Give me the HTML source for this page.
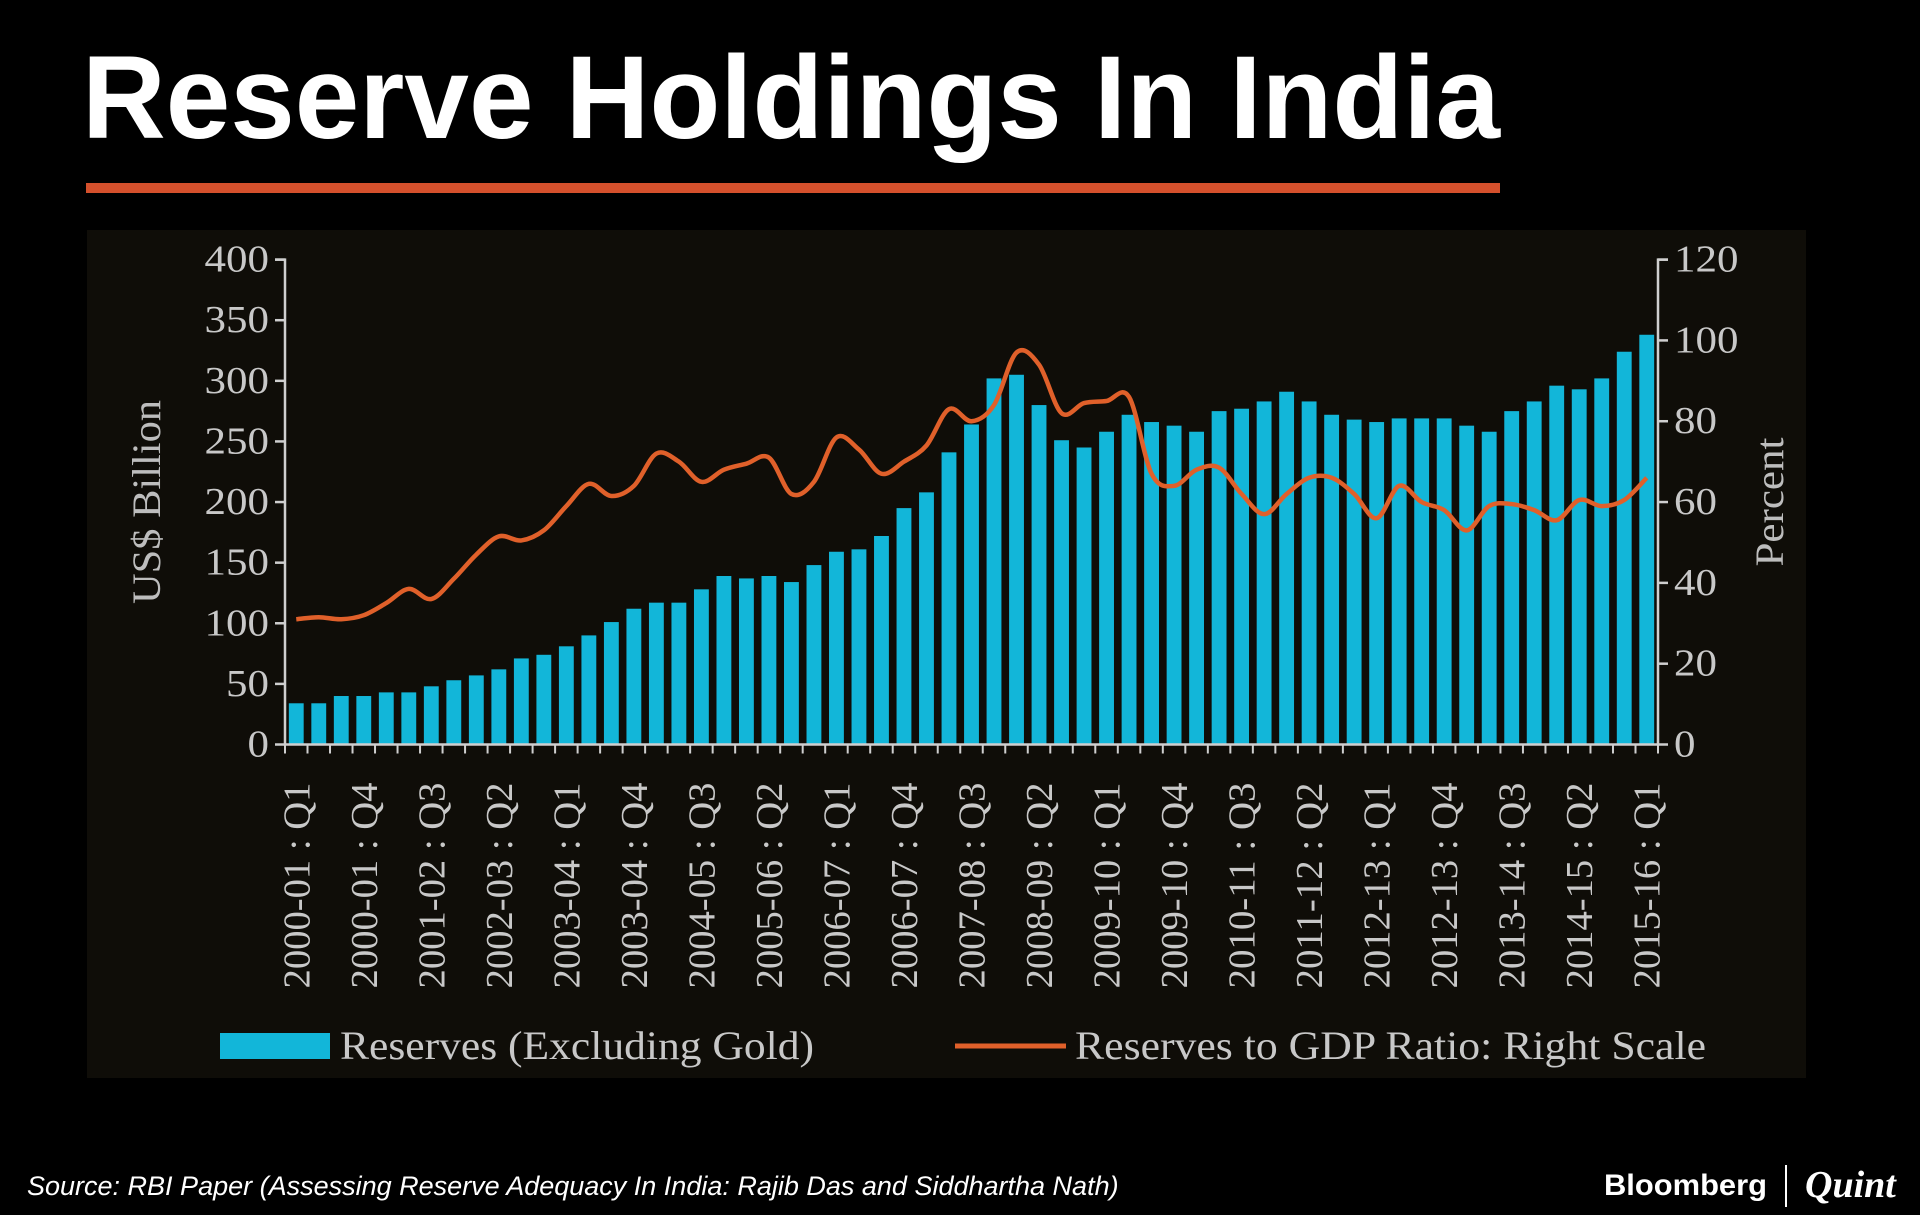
<!DOCTYPE html>
<html><head><meta charset="utf-8">
<style>
html,body{margin:0;padding:0;background:#000;width:1920px;height:1215px;overflow:hidden}
svg{display:block}
</style></head>
<body>
<svg width="1920" height="1215" viewBox="0 0 1920 1215" xmlns="http://www.w3.org/2000/svg">
<text x="82" y="138" font-family="Liberation Sans, sans-serif" font-weight="bold" font-size="118" fill="#fff" textLength="1418" lengthAdjust="spacingAndGlyphs">Reserve Holdings In India</text>
<rect x="86" y="183" width="1414" height="10" fill="#d4502c"/>
<rect x="87" y="230" width="1719" height="848" fill="#0f0d08"/>
<g id="plot"></g>
<text transform="translate(160,502) rotate(-90)" text-anchor="middle" font-family="Liberation Serif, serif" font-size="40" fill="#bdbdbd" textLength="204" lengthAdjust="spacingAndGlyphs">US$ Billion</text>
<text transform="translate(1783,502) rotate(-90)" text-anchor="middle" font-family="Liberation Serif, serif" font-size="40" fill="#bdbdbd" textLength="129" lengthAdjust="spacingAndGlyphs">Percent</text>
<g>
<rect x="220" y="1033" width="110" height="26" fill="#12b6d9"/>
<text x="340" y="1059" font-family="Liberation Serif, serif" font-size="40" fill="#c8c8c8" textLength="474" lengthAdjust="spacingAndGlyphs">Reserves (Excluding Gold)</text>
<line x1="955" y1="1046" x2="1066" y2="1046" stroke="#e0602a" stroke-width="5"/>
<text x="1075" y="1059" font-family="Liberation Serif, serif" font-size="40" fill="#c8c8c8" textLength="631" lengthAdjust="spacingAndGlyphs">Reserves to GDP Ratio: Right Scale</text>
</g>
<text x="27" y="1195" font-family="Liberation Sans, sans-serif" font-style="italic" font-size="27" fill="#fff">Source: RBI Paper (Assessing Reserve Adequacy In India: Rajib Das and Siddhartha Nath)</text>
<text x="1604" y="1195" font-family="Liberation Sans, sans-serif" font-weight="bold" font-size="30" fill="#fff" textLength="163" lengthAdjust="spacingAndGlyphs">Bloomberg</text>
<line x1="1786" y1="1165" x2="1786" y2="1207" stroke="#fff" stroke-width="2"/>
<text x="1805" y="1197" font-family="Liberation Serif, serif" font-style="italic" font-weight="bold" font-size="38" fill="#fff">Quint</text>
</svg>
<script>
const reserves=[34,34,40,40,43,43,48,53,57,62,71,74,81,90,101,112,117,117,128,139,137,139,134,148,159,161,172,195,208,241,264,302,305,280,251,245,258,272,266,263,258,275,277,283,291,283,272,268,266,269,269,269,263,258,275,283,296,293,302,324,338];
const ratio=[31,31.5,31,32,35,38.5,36,41,47,51.5,50.5,53,59,64.5,61.5,64,72,70,65,68,69.5,71,62,65,76,73,67,70,74,83,80,84,97,94,82,84.5,85,86,67,64,68,68.5,62,57,62,66,66,62,56,64,60,58,53,59,59.5,58,55.5,60.5,59,60.5,66];
const leftTicks=[0,50,100,150,200,250,300,350,400];
const rightTicks=[0,20,40,60,80,100,120];
const xLabels=["2000-01 : Q1","2000-01 : Q4","2001-02 : Q3","2002-03 : Q2","2003-04 : Q1","2003-04 : Q4","2004-05 : Q3","2005-06 : Q2","2006-07 : Q1","2006-07 : Q4","2007-08 : Q3","2008-09 : Q2","2009-10 : Q1","2009-10 : Q4","2010-11 : Q3","2011-12 : Q2","2012-13 : Q1","2012-13 : Q4","2013-14 : Q3","2014-15 : Q2","2015-16 : Q1"];
const NS="http://www.w3.org/2000/svg";
const L=285,R=1658,T=259.6,B=744.5;
const n=reserves.length,band=(R-L)/n;
const xC=i=>L+band*(i+0.5);
const yL=v=>B-(v/400)*(B-T);
const yR=v=>B-(v/120)*(B-T);
const g=document.getElementById('plot');
function mk(tag,attrs){const e=document.createElementNS(NS,tag);for(const k in attrs)e.setAttribute(k,attrs[k]);g.appendChild(e);return e;}
reserves.forEach((v,i)=>{const bw=band*0.66;const r=mk('rect',{x:xC(i)-bw/2,y:yL(v),width:bw,height:B-yL(v),fill:'#12b6d9'});

});
const ax=mk('path',{d:`M${L-10},${T}H${L}V${B}H${R}V${T}H${R+10}`,stroke:'#cfcfcf','stroke-width':2.5,fill:'none'});


leftTicks.forEach(t=>{const y=yL(t);mk('line',{x1:L-10,x2:L,y1:y,y2:y,stroke:'#cfcfcf','stroke-width':2.5});
const s=String(t);
const tx=mk('text',{x:L-16,y:y+12,'text-anchor':'end','font-family':'Liberation Serif, serif','font-size':38,fill:'#c8c8c8',textLength:s.length*21.5,lengthAdjust:'spacingAndGlyphs'});tx.textContent=s;

});
rightTicks.forEach(t=>{const y=yR(t);mk('line',{x1:R,x2:R+10,y1:y,y2:y,stroke:'#cfcfcf','stroke-width':2.5});
const s=String(t);
const tx=mk('text',{x:R+16,y:y+12,'font-family':'Liberation Serif, serif','font-size':38,fill:'#c8c8c8',textLength:s.length*21.5,lengthAdjust:'spacingAndGlyphs'});tx.textContent=s;

});
for(let i=0;i<=n;i++){const x=L+band*i;mk('line',{x1:x,x2:x,y1:B,y2:B+9,stroke:'#cfcfcf','stroke-width':2});}
xLabels.forEach((s,k)=>{const x=xC(k*3);const tx=mk('text',{transform:`translate(${x+13},${B+38}) rotate(-90)`,'text-anchor':'end','font-family':'Liberation Serif, serif','font-size':38,fill:'#c8c8c8',textLength:206,lengthAdjust:'spacingAndGlyphs'});tx.textContent=s;

});
const pts=ratio.map((v,i)=>[xC(i),yR(v)]);
let d=`M${pts[0][0]},${pts[0][1]}`;
for(let i=0;i<pts.length-1;i++){const p0=pts[Math.max(0,i-1)],p1=pts[i],p2=pts[i+1],p3=pts[Math.min(pts.length-1,i+2)];
d+=`C${p1[0]+(p2[0]-p0[0])/6},${p1[1]+(p2[1]-p0[1])/6} ${p2[0]-(p3[0]-p1[0])/6},${p2[1]-(p3[1]-p1[1])/6} ${p2[0]},${p2[1]}`;}
const ln=mk('path',{d:d,stroke:'#e0602a','stroke-width':4.5,fill:'none','stroke-linejoin':'round'});


</script>
</body></html>
